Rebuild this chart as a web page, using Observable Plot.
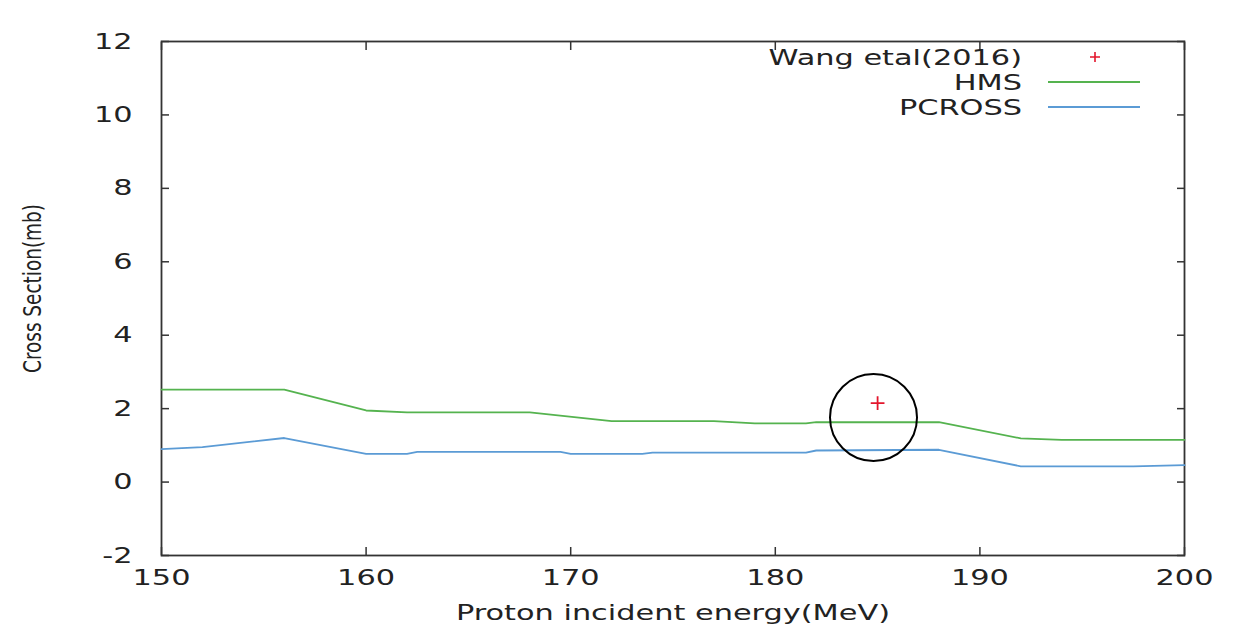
<!DOCTYPE html>
<html><head><meta charset="utf-8">
<script src="https://cdn.jsdelivr.net/npm/d3@7"></script>
<script src="https://cdn.jsdelivr.net/npm/@observablehq/plot@0.6"></script>
<style>body{margin:0;background:#fff;overflow:hidden}</style>
</head><body><div id="chart"></div>
<script>
// ---- data ----
const xTicks = [150, 160, 170, 180, 190, 200];
const yTicks = [-2, 0, 2, 4, 6, 8, 10, 12];
const hmsEnergy = [150, 156, 160, 162, 168, 172, 177, 179, 181.5, 182, 188, 192, 194, 200];
const hmsValue  = [2.52, 2.52, 1.95, 1.90, 1.90, 1.66, 1.66, 1.60, 1.60, 1.63, 1.63, 1.19, 1.15, 1.15];
const pcrossEnergy = [150, 152, 156, 160, 162, 162.5, 169.5, 170, 173.5, 174, 181.5, 182, 188, 192, 197.5, 200];
const pcrossValue  = [0.90, 0.95, 1.20, 0.77, 0.77, 0.82, 0.82, 0.77, 0.77, 0.80, 0.80, 0.86, 0.88, 0.43, 0.43, 0.46];
const wangEnergy = [185];
const wangValue = [2.15];
const circleEnergy = [184.8];
const circleValue = [1.76];
const seriesNames = ["Wang etal(2016)", "HMS", "PCROSS"];
const seriesColors = ["#e3162c", "#55b34f", "#5b9bd5"];

const hms = hmsEnergy.map((x, i) => ({x, y: hmsValue[i]}));
const pcross = pcrossEnergy.map((x, i) => ({x, y: pcrossValue[i]}));
const wang = wangEnergy.map((x, i) => ({x, y: wangValue[i]}));
const circle = circleEnergy.map((x, i) => ({x, y: circleValue[i]}));

const axisColor = "#333";
const noText = () => "";
const plain = d => String(d);

const chart = Plot.plot({
  width: 1240, height: 628,
  marginLeft: 161, marginRight: 56, marginTop: 41, marginBottom: 73,
  x: {domain: [150, 200]},
  y: {domain: [-2, 12]},
  style: {fontFamily: "DejaVu Sans", fontSize: "22px", color: "#222", background: "white"},
  marks: [
    Plot.axisX(xTicks, {anchor: "bottom", tickSize: 0, tickPadding: 14, tickFormat: plain, label: "Proton incident energy(MeV)", labelAnchor: "center", labelArrow: "none", labelOffset: 64}),
    Plot.axisX(xTicks, {anchor: "bottom", tickSize: -8, tickFormat: noText, label: null, stroke: axisColor, strokeWidth: 1.5}),
    Plot.axisX(xTicks, {anchor: "top", tickSize: -8, tickFormat: noText, label: null, stroke: axisColor, strokeWidth: 1.5}),
    Plot.axisY(yTicks, {anchor: "left", tickSize: 0, tickPadding: 29, tickFormat: plain, label: "Cross Section(mb)", labelAnchor: "center", labelArrow: "none", labelOffset: 138}),
    Plot.axisY(yTicks, {anchor: "left", tickSize: -8, tickFormat: noText, label: null, stroke: axisColor, strokeWidth: 1.5}),
    Plot.axisY(yTicks, {anchor: "right", tickSize: -8, tickFormat: noText, label: null, stroke: axisColor, strokeWidth: 1.5}),
    Plot.frame({stroke: axisColor, strokeWidth: 1.8}),
    Plot.line(hms, {x: "x", y: "y", stroke: seriesColors[1], strokeWidth: 1.8}),
    Plot.line(pcross, {x: "x", y: "y", stroke: seriesColors[2], strokeWidth: 1.8}),
    Plot.dot(wang, {x: "x", y: "y", symbol: "plus", r: 4.5, stroke: seriesColors[0], strokeWidth: 1.8}),
    Plot.dot(circle, {x: "x", y: "y", r: 43.5, stroke: "black", strokeWidth: 2, fill: "none"})
  ]
});
document.getElementById("chart").append(chart);

const svg = d3.select(chart);

// legend inside the plot (top-right)
const leg = svg.append("g").attr("font-family", "DejaVu Sans").attr("font-size", 22).attr("fill", "#222");
const rowY = [57, 82, 107];
seriesNames.forEach((name, i) => {
  leg.append("text").attr("x", 1022).attr("y", rowY[i]).attr("dy", "0.36em").attr("text-anchor", "end").text(name);
  if (i === 0) {
    leg.append("path").attr("d", `M${1095 - 5},${rowY[i]}h10M1095,${rowY[i] - 5}v10`).attr("stroke", seriesColors[i]).attr("stroke-width", 1.6);
  } else {
    leg.append("line").attr("x1", 1048).attr("x2", 1140).attr("y1", rowY[i]).attr("y2", rowY[i]).attr("stroke", seriesColors[i]).attr("stroke-width", 1.8);
  }
});

// gnuplot-like wide glyphs
const yLabel = svg.select('g[aria-label="y-axis label"] text');
svg.selectAll("text").each(function () {
  if (this === yLabel.node()) return;
  const w = this.getComputedTextLength();
  if (w > 0) {
    this.setAttribute("textLength", (w * 1.38).toFixed(1));
    this.setAttribute("lengthAdjust", "spacingAndGlyphs");
  }
});
if (!yLabel.empty()) {
  yLabel.style("font-family", "'Liberation Sans Narrow', 'DejaVu Sans Condensed', sans-serif").style("font-size", "25px");
  yLabel.attr("dx", 10).attr("textLength", 169).attr("lengthAdjust", "spacingAndGlyphs");
}
</script>
</body></html>
